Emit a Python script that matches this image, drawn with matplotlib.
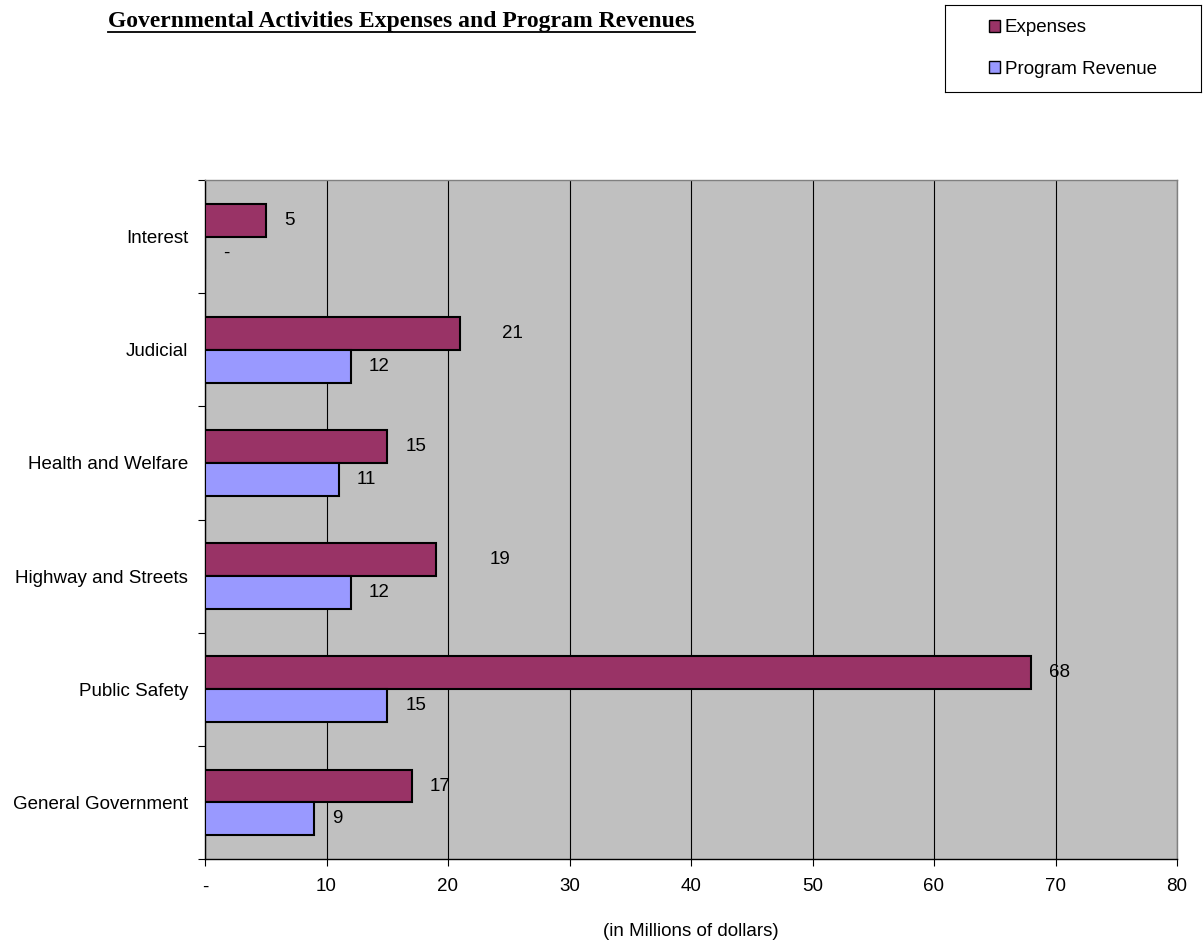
import matplotlib
matplotlib.use("Agg")
import matplotlib.pyplot as plt
from matplotlib.patches import Patch
from matplotlib.lines import Line2D
import numpy as np

# data (bottom to top as drawn)
categories = ['General Government', 'Public Safety', 'Highway and Streets',
              'Health and Welfare', 'Judicial', 'Interest']
expenses = [17, 68, 19, 15, 21, 5]
program_revenue = [9, 15, 12, 11, 12, 0]
x_ticks = [0, 10, 20, 30, 40, 50, 60, 70, 80]
x_tick_labels = ['-', '10', '20', '30', '40', '50', '60', '70', '80']

# style
exp_color = '#993366'
rev_color = '#9999FF'
bg_color = '#C0C0C0'
font = 'Liberation Sans'
fs = 13.5
bar_h = 0.29
label_pad = 13
# extra nudges (points) for labels moved by hand in the original
exp_nudge = {'Judicial': 17, 'Highway and Streets': 26}

plt.rcParams['font.family'] = font

fig = plt.figure(figsize=(12.04, 9.41), dpi=100)
ax = fig.add_axes([205 / 1204, 1 - 859 / 941, 972 / 1204, 679 / 941])
ax.set_facecolor(bg_color)

y = np.arange(len(categories))
ax.barh(y + bar_h / 2, expenses, height=bar_h, color=exp_color,
        edgecolor='black', linewidth=1.5, zorder=3)
ax.barh(y - bar_h / 2, program_revenue, height=bar_h, color=rev_color,
        edgecolor='black', linewidth=1.5, zorder=3)

for i, cat in enumerate(categories):
    ev = expenses[i]
    rv = program_revenue[i]
    ax.annotate(str(ev), xy=(ev, y[i] + bar_h / 2),
                xytext=(label_pad + exp_nudge.get(cat, 0), 0),
                textcoords='offset points', va='center', ha='left',
                fontsize=fs, zorder=4)
    ax.annotate(str(rv) if rv else '-', xy=(rv, y[i] - bar_h / 2),
                xytext=(label_pad, 0), textcoords='offset points',
                va='center', ha='left', fontsize=fs, zorder=4)

ax.set_xlim(0, 80)
ax.set_ylim(-0.5, len(categories) - 0.5)
ax.set_xticks(x_ticks)
ax.set_xticklabels(x_tick_labels, fontsize=fs)
ax.set_yticks(y)
ax.set_yticklabels(categories, fontsize=fs)
ax.set_yticks(np.arange(-0.5, len(categories)), minor=True)
ax.tick_params(axis='y', which='major', length=0, pad=12)
ax.tick_params(axis='y', which='minor', length=5, width=0.8, direction='out')
ax.tick_params(axis='x', length=5, width=0.8, direction='out', pad=9)
ax.grid(axis='x', color='black', linewidth=0.8, zorder=1)
ax.set_axisbelow(True)
ax.set_xlabel('(in Millions of dollars)', fontsize=fs, labelpad=20)

for s in ['left', 'bottom']:
    ax.spines[s].set_color('black')
    ax.spines[s].set_linewidth(1.0)
for s in ['top', 'right']:
    ax.spines[s].set_color('#808080')
    ax.spines[s].set_linewidth(1.0)

# legend box
lax = fig.add_axes([945 / 1204, 1 - 92 / 941, 256 / 1204, 87 / 941])
lax.set_xticks([])
lax.set_yticks([])
for s in lax.spines.values():
    s.set_color('black')
    s.set_linewidth(0.8)
handles = [Patch(facecolor=exp_color, edgecolor='black', label='Expenses'),
           Patch(facecolor=rev_color, edgecolor='black', label='Program Revenue')]
lax.legend(handles=handles, loc='center', frameon=False, fontsize=fs,
           handlelength=0.6, handleheight=0.6, handletextpad=0.25,
           labelspacing=1.3)

# title, underlined
title = fig.text(108 / 1204, 1 - 21 / 941,
                 'Governmental Activities Expenses and Program Revenues',
                 fontsize=17, fontweight='bold', family='Liberation Serif',
                 ha='left', va='center')
fig.canvas.draw()
bb = title.get_window_extent().transformed(fig.transFigure.inverted())
fig.add_artist(Line2D([bb.x0, bb.x1], [bb.y0 - 0.001, bb.y0 - 0.001],
                      color='black', linewidth=1.3, transform=fig.transFigure))

fig.savefig('out.png', dpi=100)
